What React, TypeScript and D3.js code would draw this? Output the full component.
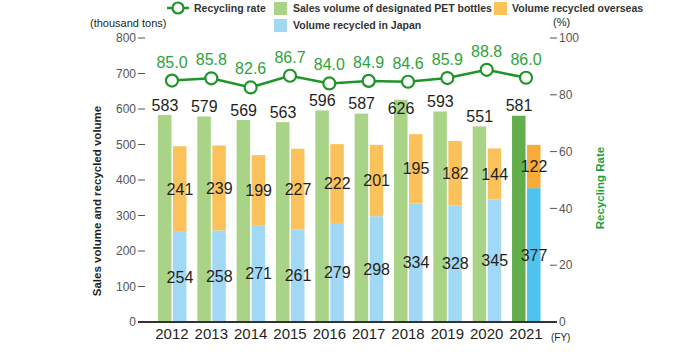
import { useRef, useEffect } from 'react';
import * as d3 from 'd3';

const years = ['2012', '2013', '2014', '2015', '2016', '2017', '2018', '2019', '2020', '2021'];
const salesVolume = [583, 579, 569, 563, 596, 587, 626, 593, 551, 581];
const recycledJapan = [254, 258, 271, 261, 279, 298, 334, 328, 345, 377];
const recycledOverseas = [241, 239, 199, 227, 222, 201, 195, 182, 144, 122];
const recyclingRate = [85.0, 85.8, 82.6, 86.7, 84.0, 84.9, 84.6, 85.9, 88.8, 86.0];
const leftTicks = [0, 100, 200, 300, 400, 500, 600, 700, 800];
const rightTicks = [0, 20, 40, 60, 80, 100];

const W = 690;
const H = 359;
const FONT = 'Liberation Sans, Arial, sans-serif';

const C = {
  green: '#a9d386', greenDark: '#63ae4c',
  orange: '#fbc25b', orangeDark: '#f8ac38',
  blue: '#a0d8f6', blueDark: '#4fc2f0',
  line: '#1f9428', rateText: '#2ea33a', axis: '#555', text: '#231f20',
};

export default function App() {
  const svgRef = useRef(null);

  useEffect(() => {
    const svg = d3.select(svgRef.current);
    svg.selectAll('*').remove();

    const x = d3.scaleBand().domain(years).range([152.3, 545.7]).padding(0);
    const cx = (yr: string) => (x(yr) as number) + x.bandwidth() / 2;
    const y = d3.scaleLinear().domain([0, 800]).range([322, 38]);
    const yr = d3.scaleLinear().domain([0, 100]).range([322, 38]);
    const last = years.length - 1;
    const bw = 13.5;

    // left axis
    leftTicks.forEach(t => {
      svg.append('line').attr('x1', 138).attr('x2', 145).attr('y1', y(t)).attr('y2', y(t))
        .attr('stroke', C.axis).attr('stroke-width', 1);
      svg.append('text').attr('x', 136).attr('y', y(t)).attr('dy', '0.35em')
        .attr('text-anchor', 'end').attr('font-size', 12).attr('fill', C.axis)
        .attr('font-family', FONT).text(t);
    });
    // right axis
    rightTicks.forEach(t => {
      if (t > 0) {
        svg.append('line').attr('x1', 550).attr('x2', 557).attr('y1', yr(t)).attr('y2', yr(t))
          .attr('stroke', C.axis).attr('stroke-width', 1);
      }
      svg.append('text').attr('x', 559).attr('y', yr(t)).attr('dy', '0.35em')
        .attr('font-size', 12).attr('fill', C.axis).attr('font-family', FONT).text(t);
    });

    svg.append('text').attr('x', 90).attr('y', 27).attr('font-size', 11).attr('fill', C.text)
      .attr('font-family', FONT).text('(thousand tons)');
    svg.append('text').attr('x', 553).attr('y', 26).attr('font-size', 11).attr('fill', C.text)
      .attr('font-family', FONT).text('(%)');
    svg.append('text').attr('x', 551).attr('y', 341).attr('font-size', 10).attr('fill', C.text)
      .attr('font-family', FONT).text('(FY)');

    svg.append('text').attr('transform', 'translate(101,201) rotate(-90)')
      .attr('text-anchor', 'middle').attr('font-size', 11.5).attr('font-weight', 'bold')
      .attr('fill', C.text).attr('font-family', FONT).text('Sales volume and recycled volume');
    svg.append('text').attr('transform', 'translate(604,188) rotate(-90)')
      .attr('text-anchor', 'middle').attr('font-size', 11.5).attr('font-weight', 'bold')
      .attr('fill', '#19a23c').attr('font-family', FONT).text('Recycling Rate');

    // bars
    years.forEach((yrLabel, i) => {
      const c = cx(yrLabel);
      const dark = i === last;
      svg.append('rect').attr('x', c - 14).attr('width', bw)
        .attr('y', y(salesVolume[i])).attr('height', y(0) - y(salesVolume[i]))
        .attr('fill', dark ? C.greenDark : C.green);
      svg.append('rect').attr('x', c + 1).attr('width', bw)
        .attr('y', y(recycledJapan[i])).attr('height', y(0) - y(recycledJapan[i]))
        .attr('fill', dark ? C.blueDark : C.blue);
      const top = recycledJapan[i] + recycledOverseas[i];
      svg.append('rect').attr('x', c + 1).attr('width', bw)
        .attr('y', y(top)).attr('height', y(recycledJapan[i]) - y(top))
        .attr('fill', dark ? C.orangeDark : C.orange);
    });

    // baseline
    svg.append('line').attr('x1', 138).attr('x2', 557).attr('y1', 322).attr('y2', 322)
      .attr('stroke', '#333').attr('stroke-width', 2);

    // year labels
    years.forEach(yrLabel => {
      svg.append('text').attr('x', cx(yrLabel)).attr('y', 339).attr('text-anchor', 'middle')
        .attr('font-size', 15).attr('fill', C.text).attr('font-family', FONT).text(yrLabel);
    });

    // value labels
    years.forEach((yrLabel, i) => {
      const c = cx(yrLabel);
      const barTop = y(salesVolume[i]);
      const nearLine = barTop - yr(recyclingRate[i]) < 20;
      const ly = nearLine ? barTop + 9 : barTop - 10;
      svg.append('text').attr('x', c - 7).attr('y', ly).attr('dy', '0.35em')
        .attr('text-anchor', 'middle').attr('font-size', 16).attr('fill', C.text)
        .attr('font-family', FONT).text(salesVolume[i]);
      const midJ = y(recycledJapan[i] / 2);
      svg.append('text').attr('x', c + 8).attr('y', midJ).attr('dy', '0.35em')
        .attr('text-anchor', 'middle').attr('font-size', 16).attr('fill', C.text)
        .attr('font-family', FONT).text(recycledJapan[i]);
      const midO = y(recycledJapan[i] + recycledOverseas[i] / 2);
      svg.append('text').attr('x', c + 8).attr('y', midO).attr('dy', '0.35em')
        .attr('text-anchor', 'middle').attr('font-size', 16).attr('fill', C.text)
        .attr('font-family', FONT).text(recycledOverseas[i]);
    });

    // recycling rate line
    const line = d3.line<number>().x((_, i) => cx(years[i])).y(d => yr(d));
    svg.append('path').datum(recyclingRate).attr('d', line)
      .attr('fill', 'none').attr('stroke', C.line).attr('stroke-width', 2.5);
    recyclingRate.forEach((v, i) => {
      svg.append('circle').attr('cx', cx(years[i])).attr('cy', yr(v)).attr('r', 6)
        .attr('fill', '#fff').attr('stroke', C.line).attr('stroke-width', 2.2);
      svg.append('text').attr('x', cx(years[i])).attr('y', yr(v) - 13)
        .attr('text-anchor', 'middle').attr('font-size', 16).attr('fill', C.rateText)
        .attr('font-family', FONT).text(v.toFixed(1));
    });

    // legend
    const lg = svg.append('g').attr('font-family', FONT).attr('font-size', 10.5)
      .attr('font-weight', 'bold').attr('fill', '#333');
    lg.append('line').attr('x1', 167).attr('x2', 189).attr('y1', 8).attr('y2', 8)
      .attr('stroke', C.line).attr('stroke-width', 2.5);
    lg.append('circle').attr('cx', 178).attr('cy', 8).attr('r', 5.5)
      .attr('fill', '#fff').attr('stroke', C.line).attr('stroke-width', 2.2);
    lg.append('text').attr('x', 194).attr('y', 8).attr('dy', '0.35em').text('Recycling rate');
    lg.append('rect').attr('x', 274).attr('y', 2).attr('width', 13).attr('height', 13).attr('fill', C.green);
    lg.append('text').attr('x', 293).attr('y', 8).attr('dy', '0.35em').text('Sales volume of designated PET bottles');
    lg.append('rect').attr('x', 494).attr('y', 2).attr('width', 13).attr('height', 13).attr('fill', C.orange);
    lg.append('text').attr('x', 512).attr('y', 8).attr('dy', '0.35em').text('Volume recycled overseas');
    lg.append('rect').attr('x', 274).attr('y', 19).attr('width', 13).attr('height', 13).attr('fill', C.blue);
    lg.append('text').attr('x', 293).attr('y', 25).attr('dy', '0.35em').text('Volume recycled in Japan');
  }, []);

  return (
    <svg ref={svgRef} width={W} height={H}
      style={{ position: 'absolute', left: 0, top: 0, background: '#fff' }} />
  );
}
